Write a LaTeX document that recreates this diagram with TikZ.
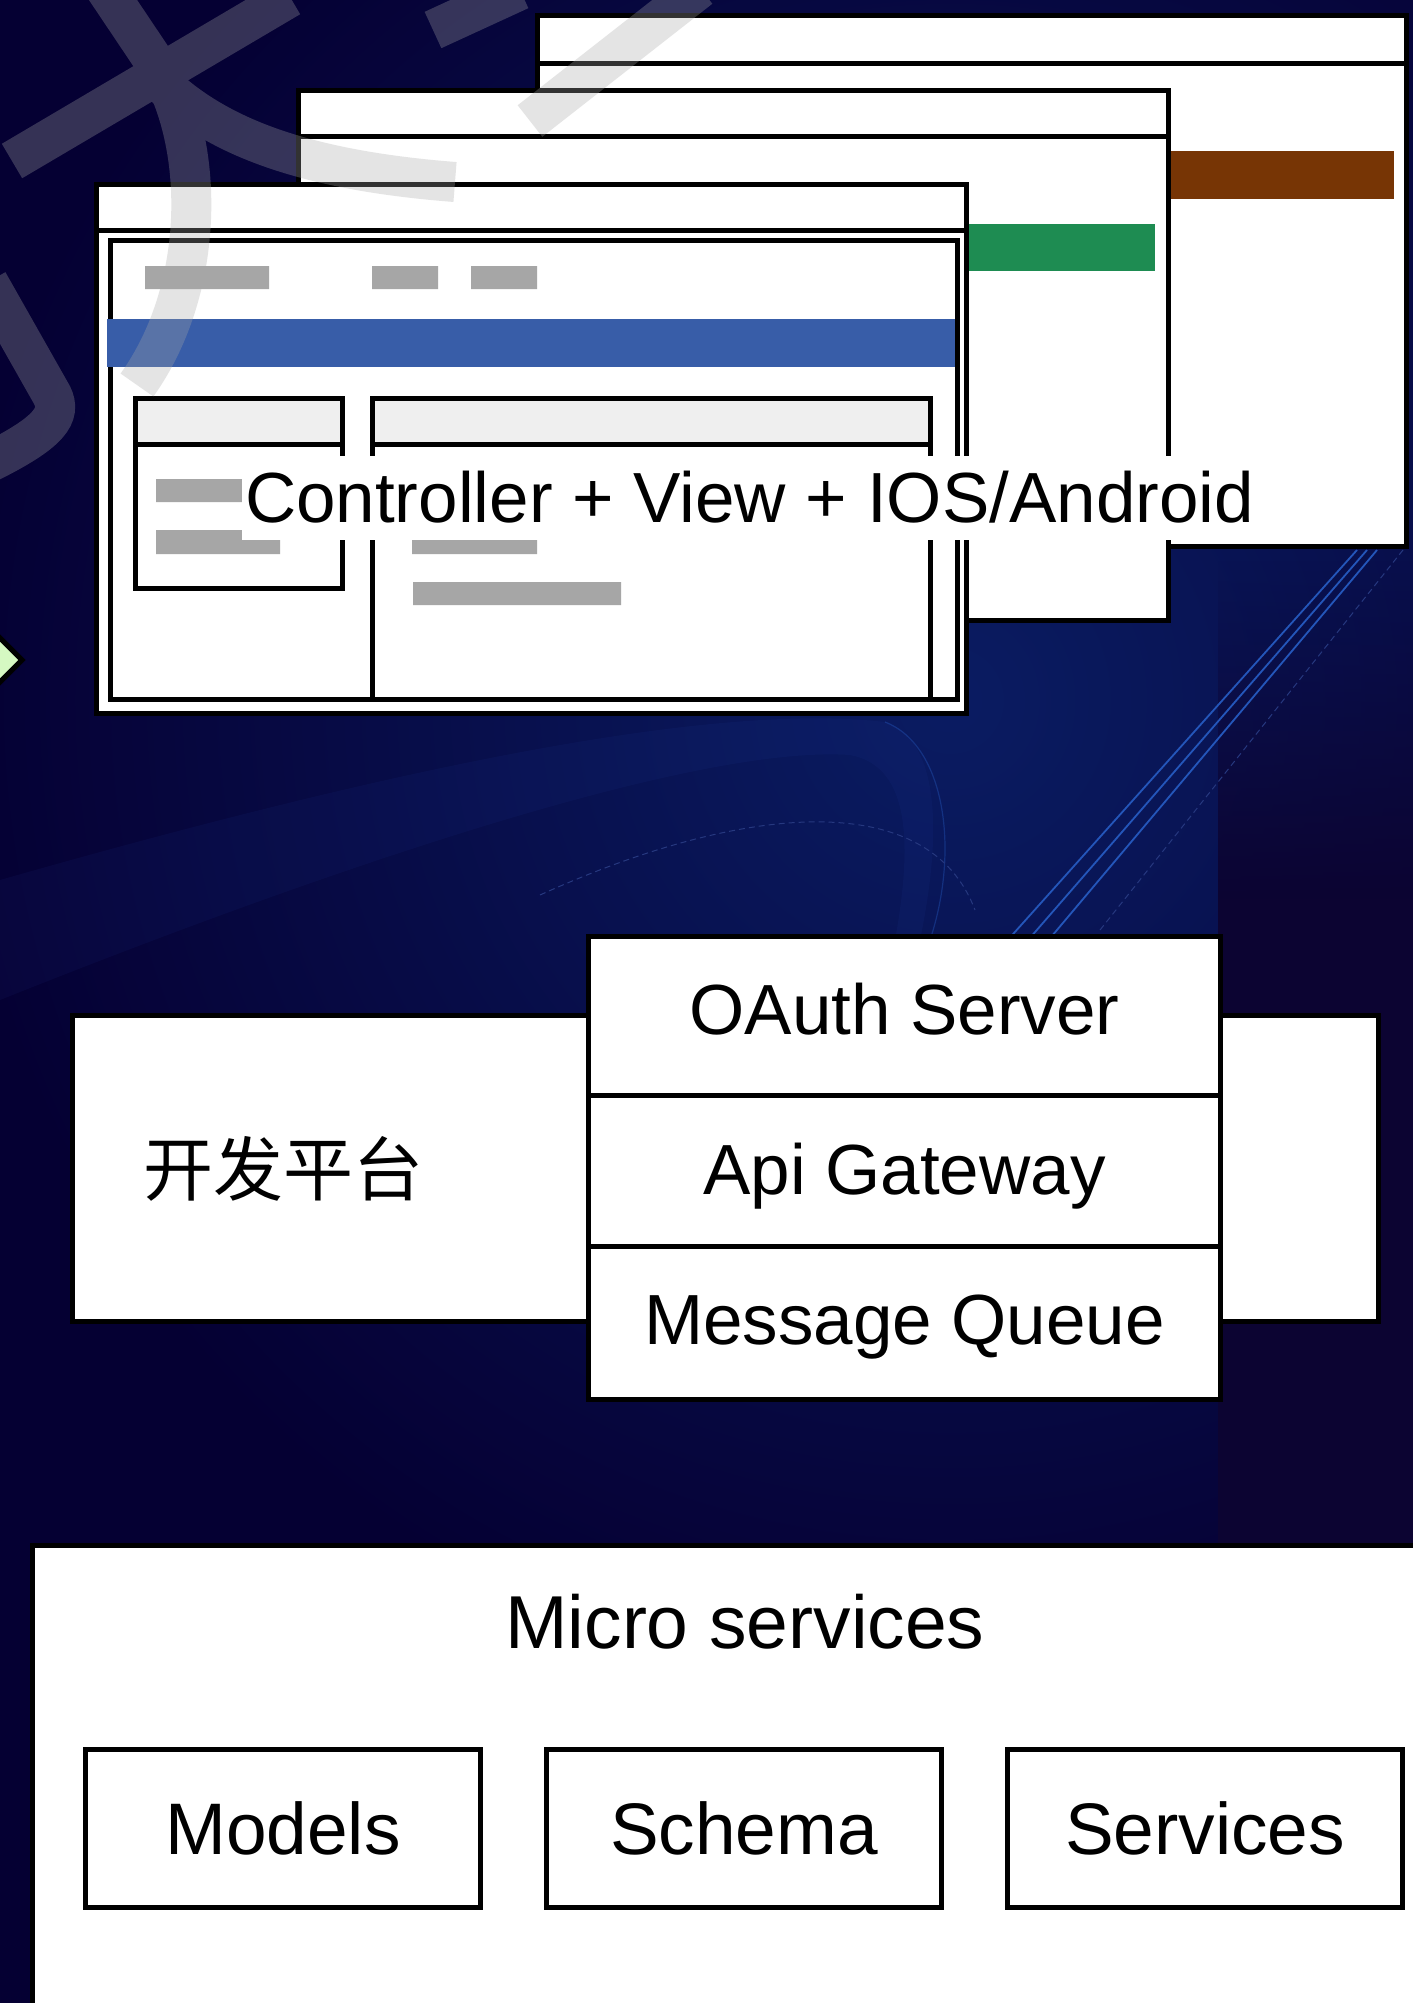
\documentclass[tikz,border=0pt]{standalone}
\usepackage{fontspec}
\setmainfont{Liberation Sans}
\newfontfamily\cjkfont{Noto Sans CJK SC}
\usepackage{tikz}
\usetikzlibrary{positioning,shapes.geometric,fadings}

\definecolor{bgNavy}{HTML}{050033}
\definecolor{glowBlue}{HTML}{0A1C62}
\definecolor{bgPurple}{HTML}{0C0432}
\definecolor{lineBlue}{HTML}{2456BA}
\definecolor{dashBlue}{HTML}{26387F}
\definecolor{ribbonBlue}{HTML}{3050C0}
\definecolor{barGray}{HTML}{A6A6A6}
\definecolor{headGray}{HTML}{EFEFEF}
\definecolor{barBlue}{HTML}{385DA8}
\definecolor{barGreen}{HTML}{1E8C52}
\definecolor{barBrown}{HTML}{773505}
\definecolor{tipGreen}{HTML}{D5F8C2}

\begin{document}
\begin{tikzpicture}
		[x=0.5pt, y=-0.5pt, line join=miter,
		% STYLES
		every node/.style={inner sep=0pt, outer sep=0pt},
		% The window style is used for the stacked app screens
		window/.style={draw=black, fill=white, line width=2.5pt},
		% grey placeholder bars
		ghost/.style={fill=barGray},
		% The layer style is used for the labelled boxes
		layer/.style={rectangle, draw=black, fill=white, line width=2.5pt, font=\fontsize{35.5}{42}\selectfont, text height=25.4pt, text depth=0pt},
		% small boxes inside the micro services panel
		cell/.style={layer, minimum width=197.5pt, minimum height=79pt, font=\fontsize{36.5}{44}\selectfont, text height=26.1pt},
		% free text
		plainText/.style={font=\fontsize{35.5}{42}\selectfont},
		% watermark strokes
		brush/.style={draw=barGray, line width=20pt}]

		\useasboundingbox (0,0) rectangle (1413,2003);
		\clip (0,0) rectangle (1413,2003);

		% Background
		\fill[bgNavy] (0,0) rectangle (1413,2003);
		\shade[inner color=glowBlue, outer color=bgNavy] (950,700) circle (500pt);
		\fill[bgPurple, path fading=north] (1218,560) rectangle (1413,900);
		\fill[bgPurple] (1218,899) rectangle (1413,1560);
		\fill[ribbonBlue, fill opacity=0.07] (0,880) .. controls (350,780) and (700,700) .. (885,722)
			.. controls (935,738) and (945,820) .. (920,940) -- (895,940)
			.. controls (915,830) and (905,765) .. (850,755) .. controls (700,745) and (350,860) .. (0,1000) -- cycle;
		\draw[lineBlue, line width=0.9pt] (1357,550) -- (954,1000);
		\draw[lineBlue, line width=0.9pt] (1367,550) -- (976,1000);
		\draw[lineBlue, line width=0.9pt] (1377,550) -- (998,1000);
		\draw[dashBlue, line width=0.5pt, dash pattern=on 3pt off 2pt] (1403,550) -- (1100,930);
		\draw[lineBlue, draw opacity=0.4, line width=0.6pt] (885,722) .. controls (945,745) and (960,850) .. (930,940);
		\draw[dashBlue, line width=0.5pt, dash pattern=on 3pt off 2pt] (540,895) .. controls (750,800) and (930,790) .. (975,910);
		\draw[fill=tipGreen, line width=2.5pt] (22,660) -- (-5,633) -- (-32,660) -- (-5,687) -- cycle;

		% back screen
		\draw[window] (537,15) rectangle (1406,546);
		\draw[line width=2.5pt] (537,63) -- (1406,63);
		\fill[barBrown] (1000,151) rectangle (1394,199);
		% middle screen
		\draw[window] (298,90) rectangle (1168,620);
		\draw[line width=2.5pt] (298,136) -- (1168,136);
		\fill[barGreen] (800,224) rectangle (1155,271);
		% front screen
		\draw[window] (96.5,184) rectangle (966,713);
		\draw[line width=2.5pt] (96.5,230) -- (966,230);
		\draw[line width=2.5pt] (110.5,240) rectangle (957,699);
		\fill[ghost] (145,266) rectangle (269,289) (372,266) rectangle (438,289) (471,266) rectangle (537,289);
		\fill[barBlue] (107,319) rectangle (955,367);
		\fill[headGray] (135,398) rectangle (342,444) (372,398) rectangle (930,444);
		\draw[line width=2.5pt] (135,398) rectangle (342,588) (135,444) -- (342,444);
		\draw[line width=2.5pt] (372,699) -- (372,398) -- (930,398) -- (930,699) (372,444) -- (930,444);
		\fill[ghost] (156,479) rectangle (242,502) (156,530) rectangle (280,554);
		\fill[ghost] (412,530) rectangle (537,554) (413,582) rectangle (621,605);

		\node [plainText, fill=white, inner xsep=1.5pt, text height=33pt, text depth=9pt, anchor=base west] (mvcLabel) at (242,522) {Controller + View + IOS/Android};

		% watermark
		\begin{scope}[transparency group, opacity=0.3]
			\draw[brush] (12,161) -- (290,-3);
			\draw[brush] (105,-12) -- (160,70) .. controls (205,150) and (205,290) .. (137,385);
			\draw[brush] (160,82) .. controls (215,135) and (300,170) .. (455,182);
			\draw[brush] (-12,282) -- (52,395) .. controls (62,415) and (50,432) .. (-10,462);
			\draw[brush] (530,121) -- (700,-12);
			\draw[brush] (433,30) -- (520,-10);
		\end{scope}

		% Draw platform layers
		\node [layer, minimum width=653pt, minimum height=153pt, anchor=north west] (devPlatform) at (72.5,1015.5) {};
		\node [font=\cjkfont\fontsize{35}{42}\selectfont, anchor=base] (devLabel) at (283,1195) {开发平台};

		\node [layer, minimum width=316pt, minimum height=79.5pt, text depth=7pt, anchor=north west] (oauth) at (588.5,936.5) {OAuth Server};
		\node [layer, minimum width=316pt, minimum height=75.5pt, text depth=2pt, below=0pt of oauth] (gateway) {Api Gateway};
		\node [layer, minimum width=316pt, minimum height=76.5pt, text depth=4pt, below=0pt of gateway] (queue) {Message Queue};

		%%%%%%%%%%%%%%%
		% Micro services
		\node [layer, minimum width=800pt, minimum height=300pt, anchor=north west] (micro) at (32.5,1545.5) {};
		\node [font=\fontsize{37.5}{45}\selectfont, anchor=base] (microLabel) at (745,1648) {Micro services};

		\node [cell, anchor=north west] (models) at (85.5,1749.5) {Models};
		\node [cell, right=33pt of models] (schema) {Schema};
		\node [cell, right=33pt of schema] (services) {Services};
\end{tikzpicture}
\end{document}
